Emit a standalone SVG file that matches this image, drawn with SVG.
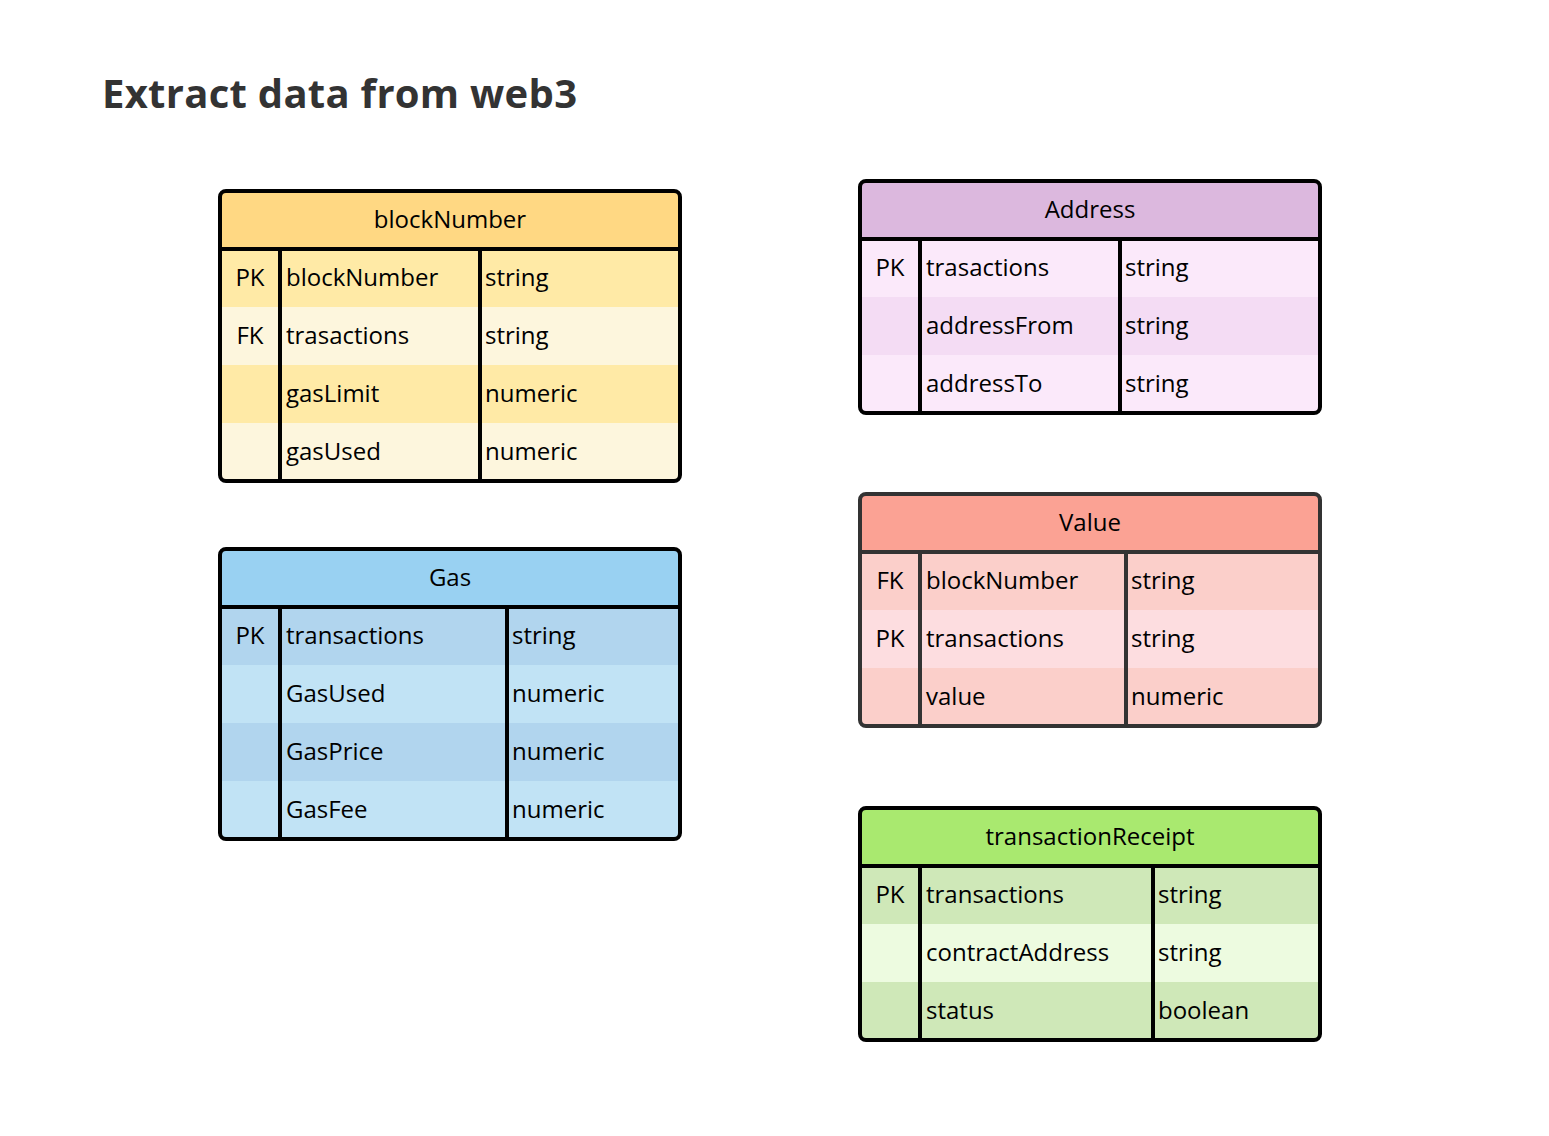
<svg xmlns="http://www.w3.org/2000/svg" width="1549" height="1136" viewBox="0 0 1549 1136">
<style>
text{font-family:"Open Sans","Noto Sans","Liberation Sans",sans-serif;font-size:24px;fill:#000}
.h{text-anchor:middle}
.k{text-anchor:middle}
.title{font-size:40px;font-weight:bold;fill:#333}
.frame{fill:none;stroke:#000;stroke-width:4}
.ln{stroke:#000;stroke-width:4}
</style>
<rect width="1549" height="1136" fill="#fff"/>
<text class="title" x="102" y="108" textLength="475" lengthAdjust="spacing">Extract data from web3</text>

<g id="blockNumber">
<rect x="220" y="191" width="460" height="290" rx="6" fill="#ffeaa6"/>
<path d="M226 191h448a6 6 0 0 1 6 6v52h-460v-52a6 6 0 0 1 6-6z" fill="#ffd883"/>
<rect x="220" y="307" width="460" height="58" fill="#fdf6dd"/>
<rect x="220" y="365" width="460" height="58" fill="#ffeaa6"/>
<path d="M220 423h460v52a6 6 0 0 1-6 6h-448a6 6 0 0 1-6-6z" fill="#fdf6dd"/>
<line class="ln" x1="220" y1="249" x2="680" y2="249"/>
<line class="ln" x1="280" y1="249" x2="280" y2="481"/>
<line class="ln" x1="480" y1="249" x2="480" y2="481"/>
<rect class="frame" x="220" y="191" width="460" height="290" rx="6"/>
<text class="h" x="450" y="228">blockNumber</text>
<text class="k" x="250" y="286">PK</text><text x="286" y="286">blockNumber</text><text x="485" y="286">string</text>
<text class="k" x="250" y="344">FK</text><text x="286" y="344">trasactions</text><text x="485" y="344">string</text>
<text x="286" y="402">gasLimit</text><text x="485" y="402">numeric</text>
<text x="286" y="460">gasUsed</text><text x="485" y="460">numeric</text>
</g>

<g id="Gas">
<rect x="220" y="549" width="460" height="290" rx="6" fill="#c1e3f5"/>
<path d="M226 549h448a6 6 0 0 1 6 6v52h-460v-52a6 6 0 0 1 6-6z" fill="#99d1f2"/>
<rect x="220" y="607" width="460" height="58" fill="#b1d5ee"/>
<rect x="220" y="723" width="460" height="58" fill="#b1d5ee"/>
<line class="ln" x1="220" y1="607" x2="680" y2="607"/>
<line class="ln" x1="280" y1="607" x2="280" y2="839"/>
<line class="ln" x1="507" y1="607" x2="507" y2="839"/>
<rect class="frame" x="220" y="549" width="460" height="290" rx="6"/>
<text class="h" x="450" y="586">Gas</text>
<text class="k" x="250" y="644">PK</text><text x="286" y="644">transactions</text><text x="512" y="644">string</text>
<text x="286" y="702">GasUsed</text><text x="512" y="702">numeric</text>
<text x="286" y="760">GasPrice</text><text x="512" y="760">numeric</text>
<text x="286" y="818">GasFee</text><text x="512" y="818">numeric</text>
</g>

<g id="Address">
<rect x="860" y="181" width="460" height="232" rx="6" fill="#fbe9fa"/>
<path d="M866 181h448a6 6 0 0 1 6 6v52h-460v-52a6 6 0 0 1 6-6z" fill="#dcb8de"/>
<rect x="860" y="297" width="460" height="58" fill="#f4dcf4"/>
<line class="ln" x1="860" y1="239" x2="1320" y2="239"/>
<line class="ln" x1="920" y1="239" x2="920" y2="413"/>
<line class="ln" x1="1120" y1="239" x2="1120" y2="413"/>
<rect class="frame" x="860" y="181" width="460" height="232" rx="6"/>
<text class="h" x="1090" y="218">Address</text>
<text class="k" x="890" y="276">PK</text><text x="926" y="276">trasactions</text><text x="1125" y="276">string</text>
<text x="926" y="334">addressFrom</text><text x="1125" y="334">string</text>
<text x="926" y="392">addressTo</text><text x="1125" y="392">string</text>
</g>

<g id="Value">
<rect x="860" y="494" width="460" height="232" rx="6" fill="#fbcfca"/>
<path d="M866 494h448a6 6 0 0 1 6 6v52h-460v-52a6 6 0 0 1 6-6z" fill="#fba294"/>
<rect x="860" y="610" width="460" height="58" fill="#fddde0"/>
<line x1="860" y1="552" x2="1320" y2="552" stroke="#333" stroke-width="4"/>
<line x1="920" y1="552" x2="920" y2="726" stroke="#333" stroke-width="4"/>
<line x1="1126" y1="552" x2="1126" y2="726" stroke="#333" stroke-width="4"/>
<rect x="860" y="494" width="460" height="232" rx="6" fill="none" stroke="#333" stroke-width="4"/>
<text class="h" x="1090" y="531">Value</text>
<text class="k" x="890" y="589">FK</text><text x="926" y="589">blockNumber</text><text x="1131" y="589">string</text>
<text class="k" x="890" y="647">PK</text><text x="926" y="647">transactions</text><text x="1131" y="647">string</text>
<text x="926" y="705">value</text><text x="1131" y="705">numeric</text>
</g>

<g id="transactionReceipt">
<rect x="860" y="808" width="460" height="232" rx="6" fill="#cfe8b8"/>
<path d="M866 808h448a6 6 0 0 1 6 6v52h-460v-52a6 6 0 0 1 6-6z" fill="#a9e96f"/>
<rect x="860" y="924" width="460" height="58" fill="#edfbe0"/>
<line class="ln" x1="860" y1="866" x2="1320" y2="866"/>
<line class="ln" x1="920" y1="866" x2="920" y2="1040"/>
<line class="ln" x1="1153" y1="866" x2="1153" y2="1040"/>
<rect class="frame" x="860" y="808" width="460" height="232" rx="6"/>
<text class="h" x="1090" y="845">transactionReceipt</text>
<text class="k" x="890" y="903">PK</text><text x="926" y="903">transactions</text><text x="1158" y="903">string</text>
<text x="926" y="961">contractAddress</text><text x="1158" y="961">string</text>
<text x="926" y="1019">status</text><text x="1158" y="1019">boolean</text>
</g>

<g id="connectors"></g>
</svg>
